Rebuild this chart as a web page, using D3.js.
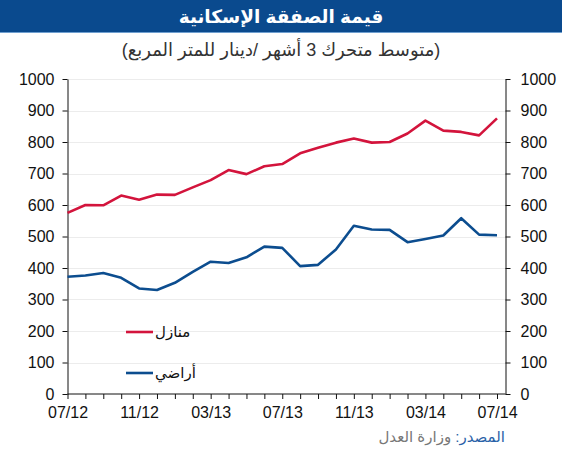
<!DOCTYPE html>
<html>
<head>
<meta charset="utf-8">
<script src="https://cdn.jsdelivr.net/npm/d3@7"></script>
<style>
  body{margin:0;background:#fff;}
  svg text{font-family:"Liberation Sans",Arial,"DejaVu Sans",sans-serif;}
</style>
</head>
<body>
<svg id="chart" width="562" height="450"></svg>
<script>
// chart values
var months=['07/12','08/12','09/12','10/12','11/12','12/12','01/13','02/13','03/13','04/13','05/13','06/13','07/13',
  '08/13','09/13','10/13','11/13','12/13','01/14','02/14','03/14','04/14','05/14','06/14','07/14'];
var tickLabels=['07/12','11/12','03/13','07/13','11/13','03/14','07/14'];
var houses=[575,600,599,630,617,633,632,656,679,711,698,723,730,764,782,798,811,798,800,827,868,836,832,821,875];
var lands=[372,376,384,369,335,330,353,388,420,416,434,468,464,406,410,459,534,522,521,482,492,503,558,506,504];
var yTicks=[0,100,200,300,400,500,600,700,800,900,1000];
var seriesNames=['منازل','أراضي'];

var svg=d3.select('#chart');
var red='#d3143c', blue='#0c4d8f';

// title bar
svg.append('rect').attr('x',0).attr('y',0).attr('width',562).attr('height',32).attr('fill','#0a4a8e');
svg.append('line').attr('x1',0).attr('x2',562).attr('y1',32.5).attr('y2',32.5).attr('stroke','#6f9fd0');
svg.append('text').attr('x',281).attr('y',23).attr('text-anchor','middle')
  .attr('fill','#fff').style('font-size','18.5px').style('font-weight','bold')
  .text('قيمة الصفقة الإسكانية');
svg.append('text').attr('x',281).attr('y',56).attr('text-anchor','middle')
  .attr('fill','#333').style('font-size','18px')
  .text('(متوسط متحرك 3 أشهر /دينار للمتر المربع)');

var pLeft=67.5, pRight=505.5, pTop=79, pBottom=394;
var x=d3.scaleLinear().domain([0,months.length-1]).range([pLeft,497]);
var y=d3.scaleLinear().domain([0,1000]).range([pBottom,pTop]);

// grid
svg.append('g').selectAll('line').data(yTicks.slice(1)).enter().append('line')
  .attr('x1',pLeft).attr('x2',pRight)
  .attr('y1',d=>Math.round(y(d))+0.5).attr('y2',d=>Math.round(y(d))+0.5)
  .attr('stroke','#ececec');

// axes
var yl=svg.append('g').attr('transform','translate('+pLeft+',0)')
  .call(d3.axisLeft(y).tickValues(yTicks).tickFormat(d3.format('d')).tickSize(5).tickSizeOuter(0).tickPadding(8));
var yr=svg.append('g').attr('transform','translate('+pRight+',0)')
  .call(d3.axisRight(y).tickValues(yTicks).tickFormat(d3.format('d')).tickSize(5).tickSizeOuter(0).tickPadding(10));
var xa=svg.append('g').attr('transform','translate(0,'+pBottom+')')
  .call(d3.axisBottom(x).tickValues(d3.range(months.length)).tickSize(5).tickSizeOuter(0).tickPadding(5)
    .tickFormat(i=>tickLabels.indexOf(months[i])>=0?months[i]:''));
xa.select('.domain').attr('d','M'+pLeft+',0H'+pRight);
[yl,yr,xa].forEach(function(g){
  g.selectAll('text').style('font-size','16px').attr('fill','#111');
  g.selectAll('line,path').attr('stroke','#111');
});
xa.selectAll('text').attr('dy','0.85em');

// lines
var line=d3.line().x((d,i)=>x(i)).y(d=>y(d));
svg.append('path').datum(houses).attr('d',line).attr('fill','none')
  .attr('stroke',red).attr('stroke-width',2.6).attr('stroke-linejoin','round');
svg.append('path').datum(lands).attr('d',line).attr('fill','none')
  .attr('stroke',blue).attr('stroke-width',2.6).attr('stroke-linejoin','round');

// legend
var lg=svg.append('g');
[[red,332],[blue,373]].forEach(function(c,i){
  lg.append('line').attr('x1',126).attr('x2',153).attr('y1',c[1]).attr('y2',c[1])
    .attr('stroke',c[0]).attr('stroke-width',2.6);
  lg.append('text').attr('x',155).attr('y',c[1]+5).attr('text-anchor','start')
    .attr('fill','#111').style('font-size','15px')
    .text(seriesNames[i]);
});

// source
var src=svg.append('text').attr('x',505).attr('y',442).attr('text-anchor','start')
  .attr('direction','rtl').style('font-size','15px');
src.append('tspan').attr('fill','#2a62a8').text('المصدر: ');
src.append('tspan').attr('fill','#777').text('وزارة العدل');
</script>
</body>
</html>
